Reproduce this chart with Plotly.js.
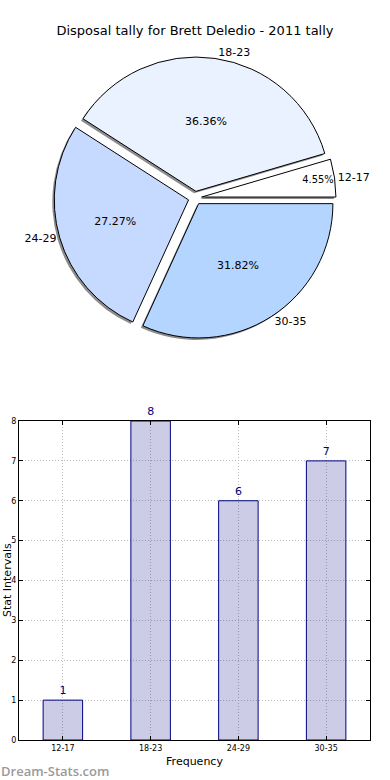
<!DOCTYPE html>
<html>
<head>
<meta charset="utf-8">
<script src="https://cdn.plot.ly/plotly-3.0.1.min.js"></script>
<style>html,body{margin:0;padding:0;background:#fff;}#chart{width:390px;height:780px;}</style>
</head>
<body>
<div id="chart"></div>
<script>
var categories = ["12-17", "18-23", "24-29", "30-35"];
var counts = [1, 8, 6, 7];
var sliceColors = ["#ffffff", "#eaf1ff", "#c6d9ff", "#b4d5ff"];
var titleText = "Disposal tally for Brett Deledio - 2011 tally";

var W = 390, H = 780;
function px(x){ return x / W; }
function py(y){ return 1 - y / H; }

var total = counts.reduce(function(a, b){ return a + b; }, 0);
var startRot = 90 - 360 * counts[0] / total;

var pieDom = {x: [px(54), px(336)], y: [py(339), py(57)]};
var shadowDom = {x: [px(52), px(334)], y: [py(341), py(59)]};
var pulls = counts.map(function(){ return 0.05; });
var font = "DejaVu Sans, sans-serif";

var shadow = {
  type: "pie", values: counts, labels: categories, sort: false,
  direction: "counterclockwise", rotation: startRot, pull: pulls,
  domain: shadowDom, textinfo: "none", hoverinfo: "skip", showlegend: false,
  marker: {colors: counts.map(function(){ return "rgba(0,0,0,0.45)"; }), line: {width: 0}}
};
var pie = {
  type: "pie", values: counts, labels: categories, sort: false,
  direction: "counterclockwise", rotation: startRot, pull: pulls,
  domain: pieDom, textposition: "inside", insidetextorientation: "horizontal",
  texttemplate: "%{percent:.2%}", showlegend: false,
  textfont: {family: font, size: 11, color: "#000"},
  marker: {colors: sliceColors, line: {color: "#000", width: 1}}
};
var pieLabels = {
  type: "pie", values: counts, labels: categories, sort: false,
  direction: "counterclockwise", rotation: startRot, pull: pulls,
  domain: pieDom, textposition: "outside", textinfo: "label", showlegend: false,
  hoverinfo: "skip",
  outsidetextfont: {family: font, size: 11, color: "#000"},
  marker: {colors: counts.map(function(){ return "rgba(0,0,0,0)"; }), line: {width: 0}}
};
var bars = {
  type: "bar", x: categories, y: counts, width: 0.45,
  text: counts.map(String), textposition: "outside", cliponaxis: false,
  textfont: {family: font, size: 11, color: "#000080"},
  marker: {color: "rgba(0,0,128,0.2)", line: {color: "#000080", width: 1}},
  showlegend: false, hoverinfo: "skip"
};

var layout = {
  width: W, height: H, margin: {l: 0, r: 0, t: 0, b: 0},
  paper_bgcolor: "#fff", plot_bgcolor: "#fff",
  font: {family: font, color: "#000"},
  title: {text: titleText, x: 0.5, xanchor: "center", y: py(30), yanchor: "middle",
          font: {family: font, size: 13, color: "#000"}},
  xaxis: {domain: [px(19), px(370)], range: [-0.5, 3.5], type: "category",
          showgrid: true, gridcolor: "#bdbdbd", griddash: "1px,2px", gridwidth: 1,
          showline: true, linecolor: "#000", linewidth: 1, mirror: "ticks",
          ticks: "inside", ticklen: 4, tickcolor: "#000",
          tickfont: {family: font, size: 8, color: "#000"}, zeroline: false,
          title: {text: "Frequency", font: {family: font, size: 11, color: "#000"}, standoff: 5}},
  yaxis: {domain: [py(740), py(421)], range: [0, 8], dtick: 1,
          showgrid: true, gridcolor: "#bdbdbd", griddash: "1px,2px", gridwidth: 1,
          showline: true, linecolor: "#000", linewidth: 1, mirror: "ticks",
          ticks: "inside", ticklen: 4, tickcolor: "#000", zeroline: false,
          tickfont: {family: font, size: 8, color: "#000"}},
  annotations: [
    {text: "Stat Intervals", xref: "paper", yref: "paper", x: px(7), y: py(580),
     xanchor: "center", yanchor: "middle", textangle: -90, showarrow: false,
     font: {family: font, size: 11, color: "#000"}},
    {text: "Dream-Stats.com", xref: "paper", yref: "paper", x: px(-1), y: py(771),
     xanchor: "left", yanchor: "middle", showarrow: false,
     font: {family: "Open Sans, sans-serif", size: 13, weight: 600, color: "#9a9a9a"}}
  ]
};

Plotly.newPlot("chart", [shadow, pie, pieLabels, bars], layout, {staticPlot: true});
</script>
</body>
</html>
